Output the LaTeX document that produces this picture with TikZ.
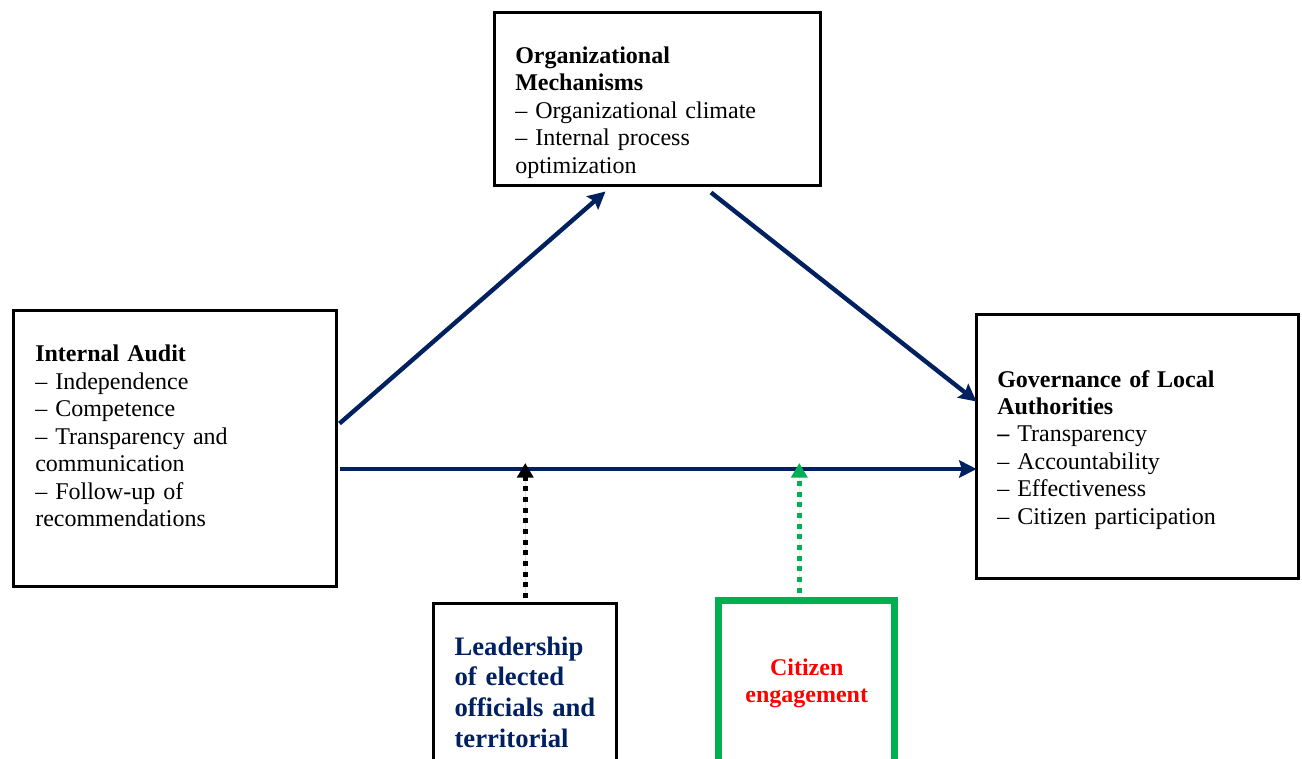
\documentclass[tikz,border=0pt]{standalone}
\usepackage{fontspec}
\setmainfont{Liberation Serif}
\usetikzlibrary{arrows.meta,calc}
\definecolor{navy}{HTML}{002060}
\definecolor{cgreen}{HTML}{00B050}
\definecolor{cred}{HTML}{FF0000}
\tikzset{
  box/.style={draw=black, line width=2.25pt, inner sep=0pt, outer sep=0pt},
  gbox/.style={draw=cgreen, line width=5.25pt, inner sep=0pt, outer sep=0pt},
  txt/.style={anchor=base west, inner sep=0pt, align=left, text width=330*0.75pt,
     font=\fontsize{18}{20.6}\selectfont},
  mainarrow/.style={draw=navy, line width=3.3pt, -{Stealth[length=13pt,width=13pt,inset=2pt]}},
  dotarrow/.style={line width=3.6pt, dash pattern=on 3.7pt off 4.3pt, -{Triangle[length=11pt,width=12pt]}},
}
\begin{document}
\begin{tikzpicture}[x=0.75pt,y=-0.75pt]
\useasboundingbox (0,0) rectangle (1302,758);
\clip (0,0) rectangle (1302,758);
% boxes
\node[box, minimum width=244.5pt, minimum height=129.75pt] (org) at (657,99) {};
\node[box, minimum width=241.9pt, minimum height=207pt] (ia) at (175.25,448.5) {};
\node[box, minimum width=241.5pt, minimum height=198pt] (gov) at (1137.5,446.5) {};
\node[box, minimum width=137.6pt, minimum height=140.25pt] (lead) at (524.75,696.5) {};
\node[gbox, minimum width=132pt, minimum height=142.1pt] (cit) at (806.5,695.25) {};
% texts
\node[txt] (orgt) at (515,63.3) {\textbf{Organizational}\\\textbf{Mechanisms}\\– Organizational climate\\– Internal process\\optimization};
\node[txt] (iat) at (35,361.7) {\textbf{Internal Audit}\\– Independence\\– Competence\\– Transparency and\\communication\\– Follow-up of\\recommendations};
\node[txt] (govt) at (997,387) {\textbf{Governance of Local}\\\textbf{Authorities}\\\textbf{–} Transparency\\– Accountability\\– Effectiveness\\– Citizen participation};
\node[anchor=base west, inner sep=0pt, align=left, text width=180*0.75pt, text=navy,
  font=\fontsize{20}{23}\selectfont\bfseries] (leadt) at (454.3,655) {Leadership\\of elected\\officials and\\territorial};
\node[anchor=base, inner sep=0pt, align=center, text width=175*0.75pt, text=cred,
  font=\fontsize{18}{20.25}\selectfont\bfseries] (citt) at (806.7,675) {Citizen\\engagement};
% connectors
\coordinate (hy) at (0,469);
\coordinate (ty) at (0,463);
\draw[mainarrow] ($(ia.north east)+(3,113)$) -- ($(org.south west)+(111.5,6)$);
\draw[mainarrow] ($(org.south west)+(217,7)$) -- ($(gov.north west)+(0,87)$);
\draw[mainarrow] (ia.east|-hy) ++(3,0) -- (gov.west|-hy);
\draw[dotarrow, draw=black, fill=black] ($(lead.north)+(0.5,-5)$) -- ($(lead.north|-ty)+(0.5,0)$);
\draw[dotarrow, draw=cgreen, fill=cgreen, line width=3.4pt] ($(cit.north)+(-7.2,-8)$) -- ($(cit.north|-ty)+(-7.2,0)$);
\end{tikzpicture}
\end{document}
